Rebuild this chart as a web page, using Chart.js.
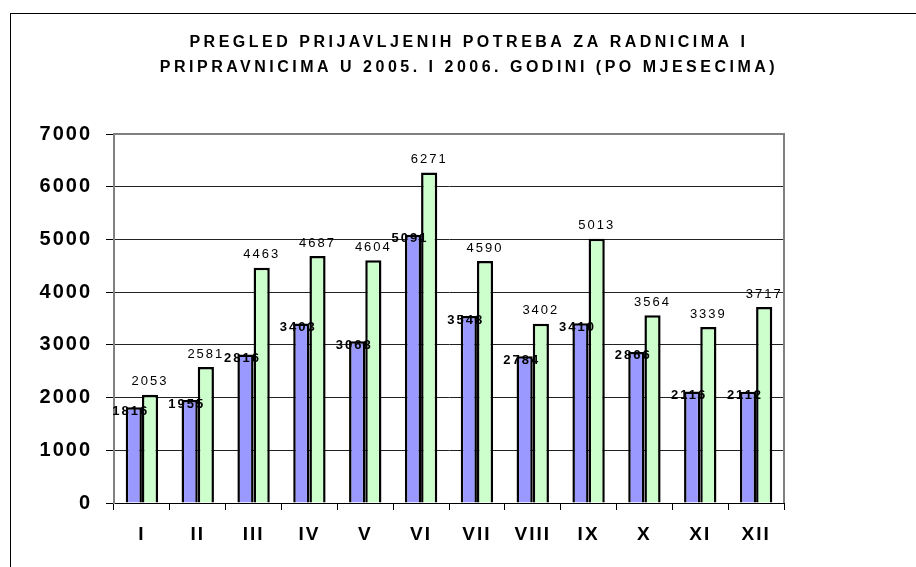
<!DOCTYPE html>
<html>
<head>
<meta charset="utf-8">
<script src="https://cdn.jsdelivr.net/npm/chart.js@4.4.1/dist/chart.umd.min.js"></script>
<style>
  body { margin: 0; background: #fff; }
  #wrap { position: absolute; left: 0; top: 0; width: 916px; height: 567px; }
  #frame { position: absolute; left: 10px; top: 13px; right: 0; bottom: 0;
           border-left: 1px solid #000; border-top: 1px solid #000; pointer-events: none; }
</style>
</head>
<body>
<div id="wrap"><canvas id="chart" width="916" height="567"></canvas></div>
<div id="frame"></div>
<script>
const months = ['I', 'II', 'III', 'IV', 'V', 'VI', 'VII', 'VIII', 'IX', 'X', 'XI', 'XII'];
const values2005 = [1816, 1955, 2816, 3403, 3068, 5091, 3548, 2784, 3410, 2866, 2116, 2112];
const values2006 = [2053, 2581, 4463, 4687, 4604, 6271, 4590, 3402, 5013, 3564, 3339, 3717];
const titleLines = ['PREGLED PRIJAVLJENIH POTREBA ZA RADNICIMA I',
                    'PRIPRAVNICIMA U 2005. I 2006. GODINI (PO MJESECIMA)'];

const FONT = 'Arial, "Liberation Sans", sans-serif';

// wide letter spacing like the old Excel rendering
const spacing = {
    id: 'spacing',
    beforeUpdate(c) { c.ctx.letterSpacing = '2px'; },
    beforeDraw(c) { c.ctx.letterSpacing = '2px'; }
};

// title drawn by hand so it can get its own (wider) letter spacing
const titleText = {
    id: 'titleText',
    afterDraw(c) {
        const ctx = c.ctx;
        ctx.save();
        ctx.letterSpacing = '3.5px';
        ctx.font = 'bold 16px ' + FONT;
        ctx.fillStyle = '#000';
        ctx.textAlign = 'center';
        ctx.textBaseline = 'middle';
        titleLines.forEach((line, i) => ctx.fillText(line, 469, 43 + i * 25));
        ctx.restore();
    }
};

// gray frame on top and right of the plot area
const plotFrame = {
    id: 'plotFrame',
    afterDraw(c) {
        const a = c.chartArea, ctx = c.ctx;
        ctx.save();
        ctx.strokeStyle = '#808080';
        ctx.lineWidth = 2;
        ctx.beginPath();
        ctx.moveTo(a.left, a.top);
        ctx.lineTo(a.right, a.top);
        ctx.lineTo(a.right, a.bottom);
        ctx.stroke();
        ctx.restore();
    }
};

const barLabels = {
    id: 'barLabels',
    afterDatasetsDraw(c) {
        const ctx = c.ctx;
        ctx.save();
        ctx.letterSpacing = '2px';
        ctx.fillStyle = '#000';
        ctx.textAlign = 'center';
        ctx.textBaseline = 'middle';
        c.data.datasets.forEach((ds, i) => {
            const meta = c.getDatasetMeta(i);
            meta.data.forEach((bar, j) => {
                if (i === 0) {
                    ctx.font = 'bold 13px ' + FONT;
                    ctx.fillText(ds.data[j], bar.x - 3, bar.y + 4);
                } else {
                    ctx.font = '13px ' + FONT;
                    ctx.fillText(ds.data[j], bar.x, bar.y - 13);
                }
            });
        });
        ctx.restore();
    }
};

new Chart(document.getElementById('chart'), {
    type: 'bar',
    data: {
        labels: months,
        datasets: [{
            label: '2005',
            data: values2005,
            backgroundColor: '#9999FF',
            borderColor: '#000',
            borderWidth: 2.5,
            borderSkipped: 'bottom'
        }, {
            label: '2006',
            data: values2006,
            backgroundColor: '#CCFFCC',
            borderColor: '#000',
            borderWidth: 2.5,
            borderSkipped: 'bottom'
        }]
    },
    options: {
        responsive: false,
        animation: false,
        layout: { padding: { top: 134 } },
        datasets: { bar: { categoryPercentage: 0.58, barPercentage: 1 } },
        plugins: {
            legend: { display: false },
            tooltip: { enabled: false },
            title: { display: false }
        },
        scales: {
            x: {
                afterFit(s) { s.height = 64; },
                grid: { drawOnChartArea: false, drawTicks: true, tickLength: 7, color: '#000', offset: true },
                border: { color: '#000', width: 1 },
                ticks: { color: '#000', padding: 13, font: { family: FONT, size: 19, weight: 'bold' } }
            },
            y: {
                min: 0,
                max: 7000,
                afterFit(s) { s.width = 114; },
                grid: {
                    color: ctx => ctx.tick && ctx.tick.value === 7000 ? '#808080' : '#222',
                    tickColor: '#000',
                    tickLength: 8
                },
                border: { color: '#808080', width: 2 },
                ticks: {
                    stepSize: 1000,
                    color: '#000',
                    padding: 14,
                    font: { family: FONT, size: 20, weight: 'bold' },
                    callback: v => String(v)
                }
            },
            yRight: {
                position: 'right',
                afterFit(s) { s.width = 132; },
                grid: { display: false },
                border: { display: false },
                ticks: { display: false }
            }
        }
    },
    plugins: [spacing, plotFrame, barLabels, titleText]
});
</script>
</body>
</html>
